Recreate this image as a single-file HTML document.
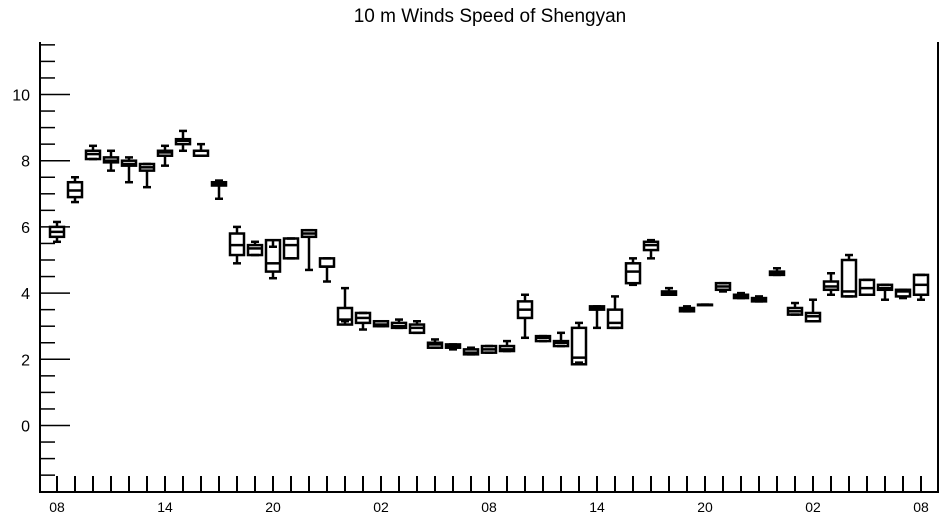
<!DOCTYPE html>
<html><head><meta charset="utf-8"><style>
body{margin:0;background:#fff}
svg{display:block;font-family:"Liberation Sans",sans-serif}
</style></head><body>
<svg id="chart" width="945" height="520" viewBox="0 0 945 520" xmlns="http://www.w3.org/2000/svg">
<text x="490" y="22" font-size="19" text-anchor="middle">10 m Winds Speed of Shengyan</text>
<g id="axes"></g>
<g id="boxes"></g>
</svg>
<script>
const hours = [];
for (let i = 0; i < 49; i++) hours.push(i);
const xTickLabels = ["08","14","20","02","08","14","20","02","08"];
const yTickLabels = [0,2,4,6,8,10];
const lo  = [5.55,6.75,8.05,7.7,7.35,7.2,7.85,8.3,8.15,6.85,4.9,5.15,4.45,5.05,4.7,4.35,3.15,2.9,3.0,2.95,2.8,2.35,2.3,2.15,2.2,2.25,2.65,2.55,2.4,1.9,2.95,2.95,4.25,5.05,3.95,3.45,3.65,4.05,3.85,3.75,4.55,3.35,3.15,3.95,3.9,3.95,3.8,3.85,3.8];
const q1  = [5.7,6.9,8.05,7.95,7.85,7.7,8.15,8.5,8.15,7.25,5.15,5.15,4.65,5.05,5.7,4.8,3.05,3.1,3.0,2.95,2.8,2.35,2.35,2.15,2.2,2.25,3.25,2.55,2.4,1.85,3.5,2.95,4.3,5.3,3.95,3.45,3.65,4.1,3.85,3.75,4.55,3.35,3.15,4.1,3.9,3.95,4.1,3.9,3.95];
const med = [5.85,7.1,8.2,8.0,7.9,7.8,8.25,8.6,8.3,7.3,5.45,5.35,4.9,5.45,5.8,4.8,3.2,3.25,3.05,3.0,2.95,2.45,2.4,2.2,2.3,2.3,3.5,2.65,2.5,2.05,3.55,3.1,4.65,5.45,4.0,3.5,3.65,4.2,3.9,3.8,4.6,3.45,3.3,4.2,4.05,4.15,4.15,4.05,4.25];
const q3  = [6.0,7.35,8.3,8.1,8.0,7.9,8.3,8.65,8.3,7.35,5.8,5.45,5.6,5.65,5.9,5.05,3.55,3.4,3.15,3.1,3.05,2.5,2.45,2.3,2.4,2.4,3.75,2.7,2.55,2.95,3.6,3.5,4.9,5.55,4.05,3.55,3.65,4.3,3.95,3.85,4.65,3.55,3.4,4.35,5.0,4.4,4.25,4.1,4.55];
const hi  = [6.15,7.5,8.45,8.3,8.1,7.9,8.45,8.9,8.5,7.4,6.0,5.55,5.4,5.65,5.9,5.05,4.15,3.4,3.15,3.2,3.15,2.6,2.45,2.35,2.4,2.55,3.95,2.7,2.8,3.1,3.6,3.9,5.05,5.6,4.15,3.6,3.65,4.3,4.0,3.9,4.75,3.7,3.8,4.6,5.15,4.4,4.25,4.1,4.55];

const NS = "http://www.w3.org/2000/svg";
const X0 = 40, X1 = 938, Y0 = 42, Y1 = 492;
const xs = h => 57 + 18 * h;
const ys = v => 425.5 - 33.1 * v;
function mk(tag, attrs, parent) {
  const e = document.createElementNS(NS, tag);
  for (const k in attrs) e.setAttribute(k, attrs[k]);
  parent.appendChild(e);
  return e;
}
const axes = document.getElementById('axes');
const frame = mk('path', {d:`M${X0} ${Y0} V${Y1} H${X1} V${Y0}`, fill:'none', stroke:'#000', 'stroke-width':2}, axes);


for (let v = -2; v <= 11.5; v += 0.5) {
  const major = Math.abs(v % 2) < 1e-9;
  const t = mk('line', {x1:X0, x2:X0 + (major ? 30 : 15), y1:ys(v), y2:ys(v), stroke:'#000', 'stroke-width':1.5}, axes);
  
  
}
yTickLabels.forEach(v => {
  const t = mk('text', {x:30, y:ys(v) + 6, 'font-size':16, 'text-anchor':'end'}, axes);
  t.textContent = v;
  
  
});
hours.forEach(h => {
  const t = mk('line', {x1:xs(h), x2:xs(h), y1:Y1, y2:Y1 - 16, stroke:'#000', 'stroke-width':2}, axes);
  
  
});
xTickLabels.forEach((s, i) => {
  const t = mk('text', {x:xs(i * 6), y:512, 'font-size':14, 'text-anchor':'middle'}, axes);
  t.textContent = s;
  
  
});
const boxes = document.getElementById('boxes');
hours.forEach((h, i) => {
  const g = mk('g', {stroke:'#000', 'stroke-width':2.5, fill:'none'}, boxes);
  
  
  const x = xs(h), w = 7;
  mk('line', {x1:x, x2:x, y1:ys(hi[i]), y2:ys(q3[i])}, g);
  mk('line', {x1:x, x2:x, y1:ys(q1[i]), y2:ys(lo[i])}, g);
  mk('line', {x1:x - 4, x2:x + 4, y1:ys(hi[i]), y2:ys(hi[i])}, g);
  mk('line', {x1:x - 4, x2:x + 4, y1:ys(lo[i]), y2:ys(lo[i])}, g);
  mk('rect', {x:x - w, y:ys(q3[i]), width:2 * w, height:Math.max(0.5, ys(q1[i]) - ys(q3[i]))}, g);
  mk('line', {x1:x - w, x2:x + w, y1:ys(med[i]), y2:ys(med[i])}, g);
});
</script>
</body></html>
